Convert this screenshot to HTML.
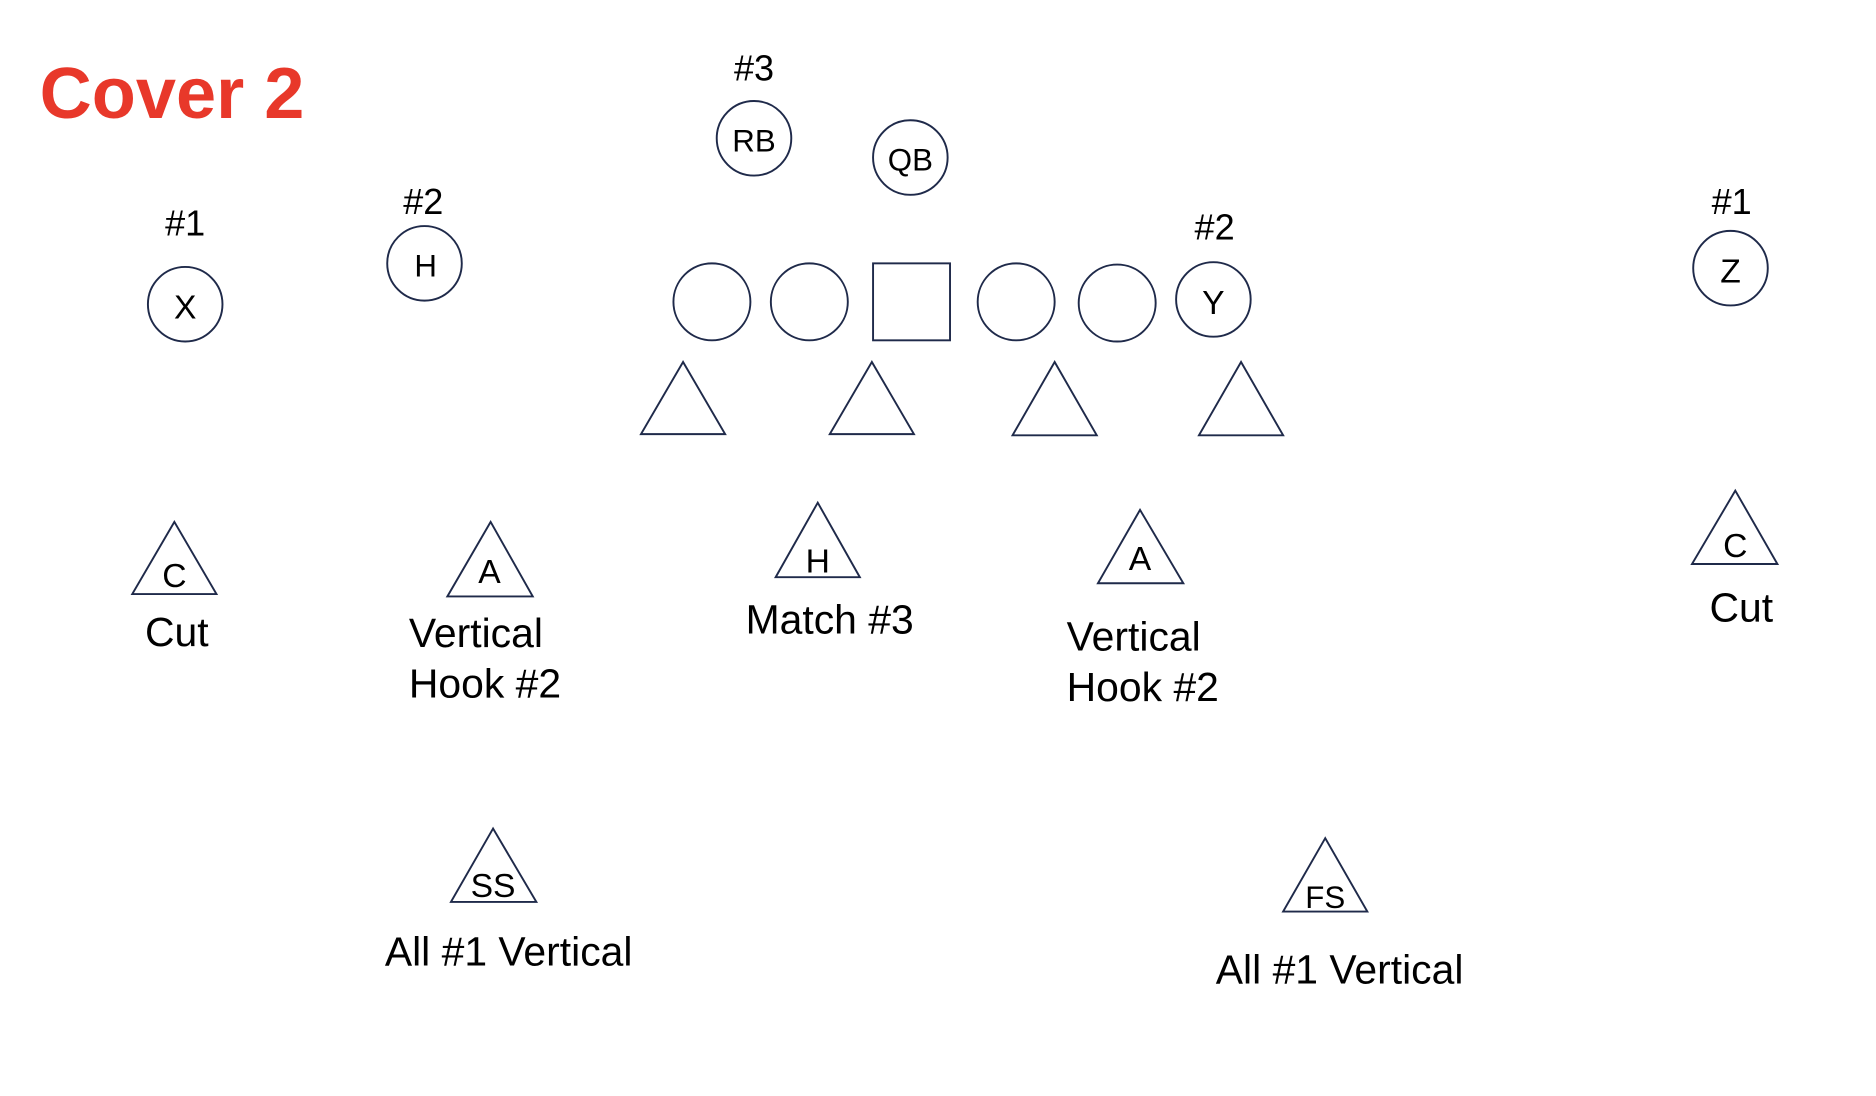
<!DOCTYPE html>
<html><head><meta charset="utf-8"><style>html,body{margin:0;padding:0;background:#fff}svg{display:block}</style></head><body>
<svg width="1876" height="1096" viewBox="0 0 1560 911.4" preserveAspectRatio="none" xmlns="http://www.w3.org/2000/svg" font-family="Liberation Sans, sans-serif">
<text x="33" y="98" font-size="60" font-weight="bold" fill="#e8382a">Cover 2</text>
<g fill="none" stroke="#1f2a4a" stroke-width="1.6">
<circle cx="627" cy="115" r="31"/>
<circle cx="757" cy="131" r="31"/>
<circle cx="154" cy="253" r="31"/>
<circle cx="353" cy="219" r="31"/>
<circle cx="592" cy="251" r="32"/>
<circle cx="673" cy="251" r="32"/>
<rect x="726" y="219" width="64" height="64"/>
<circle cx="845" cy="251" r="32"/>
<circle cx="929" cy="252" r="32"/>
<circle cx="1009" cy="249" r="31"/>
<circle cx="1439" cy="223" r="31"/>
<polygon points="568,301 533,361 603,361"/>
<polygon points="725,301 690,361 760,361"/>
<polygon points="877,301 842,362 912,362"/>
<polygon points="1032,301 997,362 1067,362"/>
<polygon points="145,434 110,494 180,494"/>
<polygon points="408,434 372,496 443,496"/>
<polygon points="680,418 645,480 715,480"/>
<polygon points="948,424 913,485 984,485"/>
<polygon points="1443,408 1407,469 1478,469"/>
<polygon points="410,689 375,750 446,750"/>
<polygon points="1102,697 1067,758 1137,758"/>
</g>
<g fill="#000" text-anchor="middle" font-size="30">
<text x="627" y="67">#3</text>
<text x="627" y="126" font-size="26">RB</text>
<text x="757" y="142" font-size="26">QB</text>
<text x="154" y="196">#1</text>
<text x="154" y="265" font-size="28">X</text>
<text x="352" y="178">#2</text>
<text x="354" y="230" font-size="26">H</text>
<text x="1010" y="199">#2</text>
<text x="1009" y="261" font-size="28">Y</text>
<text x="1440" y="178">#1</text>
<text x="1439" y="235" font-size="28">Z</text>
<text x="145" y="488" font-size="28">C</text>
<text x="407" y="485" font-size="28">A</text>
<text x="680" y="476" font-size="28">H</text>
<text x="948" y="474" font-size="28">A</text>
<text x="1443" y="463" font-size="28">C</text>
<text x="410" y="746" font-size="28">SS</text>
<text x="1102" y="755" font-size="26">FS</text>
<text x="147" y="537" font-size="34">Cut</text>
<text x="1448" y="517" font-size="34">Cut</text>
</g>
<g fill="#000" font-size="34">
<text x="340" y="538">Vertical</text>
<text x="340" y="580">Hook #2</text>
<text x="620" y="527">Match #3</text>
<text x="887" y="541">Vertical</text>
<text x="887" y="583">Hook #2</text>
<text x="320" y="803">All #1 Vertical</text>
<text x="1011" y="818">All #1 Vertical</text>
</g>
</svg>
</body></html>
